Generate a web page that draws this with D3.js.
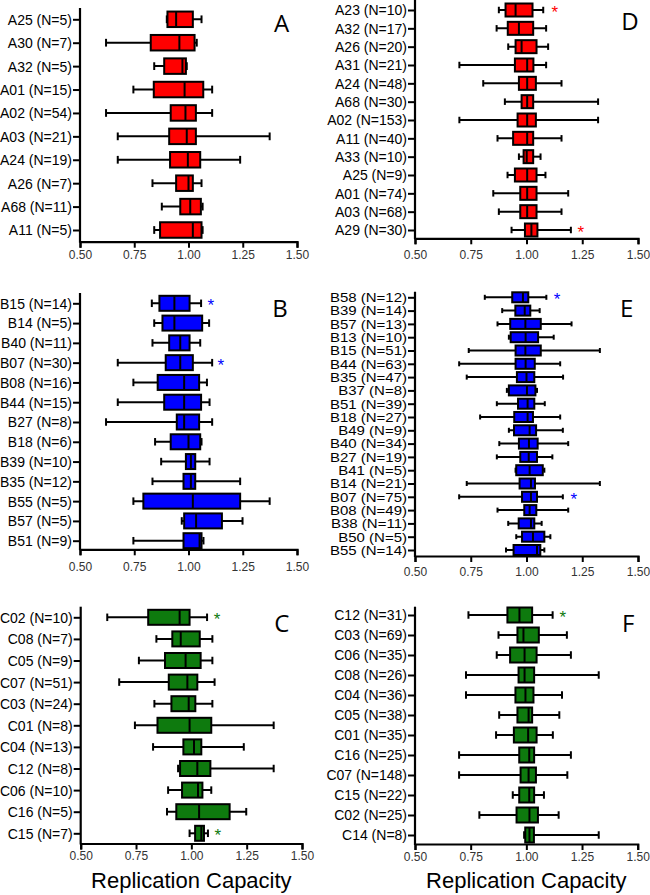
<!DOCTYPE html>
<html>
<head>
<meta charset="utf-8">
<script src="https://cdn.jsdelivr.net/npm/d3@7"></script>
<style>
  html, body { margin: 0; padding: 0; background: #fff; }
  svg { display: block; }
</style>
</head>
<body>
<svg id="chart" width="650" height="895"></svg>
<script>
// ---------- DATA: [label, min, q1, median, q3, max] ----------
const panelA = [
  ["A25 (N=5)", 0.900, 0.903, 0.943, 1.020, 1.060],
  ["A30 (N=7)", 0.620, 0.826, 0.958, 1.028, 1.038],
  ["A32 (N=5)", 0.842, 0.888, 0.972, 0.988, 0.992],
  ["A01 (N=15)", 0.746, 0.840, 0.982, 1.068, 1.109],
  ["A02 (N=54)", 0.620, 0.918, 0.986, 1.034, 1.109],
  ["A03 (N=21)", 0.674, 0.911, 0.992, 1.034, 1.374],
  ["A24 (N=19)", 0.674, 0.915, 0.997, 1.054, 1.238],
  ["A26 (N=7)", 0.834, 0.943, 1.000, 1.020, 1.060],
  ["A68 (N=11)", 0.877, 0.962, 1.008, 1.057, 1.065],
  ["A11 (N=5)", 0.842, 0.869, 1.020, 1.060, 1.065]
];
const panelB = [
  ["B15 (N=14)", 0.831, 0.866, 0.935, 1.005, 1.058],
  ["B14 (N=5)", 0.842, 0.880, 0.935, 1.063, 1.095],
  ["B40 (N=11)", 0.834, 0.911, 0.962, 1.005, 1.054],
  ["B07 (N=30)", 0.674, 0.895, 0.962, 1.020, 1.109],
  ["B08 (N=16)", 0.746, 0.858, 0.980, 1.049, 1.085],
  ["B44 (N=15)", 0.674, 0.888, 0.980, 1.058, 1.097],
  ["B27 (N=8)", 0.620, 0.946, 0.980, 1.049, 1.109],
  ["B18 (N=6)", 0.846, 0.918, 1.000, 1.054, 1.060],
  ["B39 (N=10)", 0.874, 0.988, 1.011, 1.031, 1.097],
  ["B35 (N=12)", 0.834, 0.977, 1.011, 1.031, 1.238],
  ["B55 (N=5)", 0.746, 0.792, 1.020, 1.238, 1.374],
  ["B57 (N=5)", 0.969, 0.980, 1.035, 1.154, 1.249],
  ["B51 (N=9)", 0.746, 0.977, 1.051, 1.060, 1.069]
];
const panelC = [
  ["C02 (N=10)", 0.620, 0.805, 0.947, 0.992, 1.071],
  ["C08 (N=7)", 0.842, 0.914, 0.952, 1.038, 1.095],
  ["C05 (N=9)", 0.763, 0.881, 0.974, 1.042, 1.095],
  ["C07 (N=51)", 0.674, 0.898, 0.982, 1.027, 1.105],
  ["C03 (N=24)", 0.833, 0.910, 0.988, 1.018, 1.095],
  ["C01 (N=8)", 0.745, 0.847, 0.992, 1.090, 1.372],
  ["C04 (N=13)", 0.827, 0.964, 1.012, 1.045, 1.237],
  ["C12 (N=8)", 0.940, 0.949, 1.027, 1.086, 1.372],
  ["C06 (N=10)", 0.895, 0.958, 1.030, 1.050, 1.090],
  ["C16 (N=5)", 0.890, 0.932, 1.035, 1.173, 1.248],
  ["C15 (N=7)", 0.992, 1.017, 1.045, 1.057, 1.075]
];
const panelD = [
  ["A23 (N=10)", 0.876, 0.906, 0.951, 1.027, 1.075],
  ["A32 (N=17)", 0.866, 0.916, 0.966, 1.030, 1.088],
  ["A26 (N=20)", 0.918, 0.951, 0.978, 1.045, 1.097],
  ["A31 (N=21)", 0.699, 0.948, 1.003, 1.031, 1.088],
  ["A24 (N=48)", 0.806, 0.966, 1.003, 1.042, 1.157],
  ["A68 (N=30)", 0.903, 0.978, 1.003, 1.030, 1.321],
  ["A02 (N=153)", 0.699, 0.960, 1.003, 1.042, 1.321],
  ["A11 (N=40)", 0.870, 0.940, 1.003, 1.030, 1.157],
  ["A33 (N=10)", 0.966, 0.987, 1.001, 1.030, 1.063],
  ["A25 (N=9)", 0.915, 0.948, 1.003, 1.045, 1.085],
  ["A01 (N=74)", 0.851, 0.972, 1.003, 1.045, 1.187],
  ["A03 (N=68)", 0.876, 0.972, 1.003, 1.045, 1.157],
  ["A29 (N=30)", 0.933, 0.993, 1.022, 1.049, 1.199]
];
const panelE = [
  ["B58 (N=12)", 0.813, 0.936, 0.984, 1.008, 1.089],
  ["B39 (N=14)", 0.891, 0.950, 0.992, 1.017, 1.059],
  ["B57 (N=13)", 0.870, 0.927, 0.995, 1.064, 1.202],
  ["B13 (N=10)", 0.921, 0.929, 0.996, 1.052, 1.122],
  ["B15 (N=51)", 0.741, 0.951, 0.995, 1.064, 1.329],
  ["B44 (N=63)", 0.698, 0.951, 0.996, 1.037, 1.151],
  ["B35 (N=47)", 0.732, 0.957, 1.000, 1.035, 1.164],
  ["B37 (N=8)", 0.912, 0.921, 1.002, 1.040, 1.047],
  ["B51 (N=39)", 0.867, 0.962, 1.005, 1.035, 1.082],
  ["B18 (N=27)", 0.792, 0.945, 1.005, 1.029, 1.151],
  ["B49 (N=9)", 0.921, 0.944, 1.014, 1.043, 1.163],
  ["B40 (N=34)", 0.878, 0.966, 1.011, 1.050, 1.187],
  ["B27 (N=19)", 0.867, 0.972, 1.010, 1.047, 1.116],
  ["B41 (N=5)", 0.951, 0.954, 1.014, 1.073, 1.080],
  ["B14 (N=21)", 0.732, 0.969, 1.020, 1.038, 1.329],
  ["B07 (N=75)", 0.698, 0.980, 1.020, 1.047, 1.163],
  ["B08 (N=49)", 0.870, 0.990, 1.014, 1.044, 1.187],
  ["B38 (N=11)", 0.918, 0.965, 1.020, 1.035, 1.068],
  ["B50 (N=5)", 0.954, 0.980, 1.029, 1.080, 1.107],
  ["B55 (N=14)", 0.908, 0.942, 1.047, 1.062, 1.080]
];
const panelF = [
  ["C12 (N=31)", 0.740, 0.915, 0.969, 1.026, 1.118],
  ["C03 (N=69)", 0.875, 0.960, 0.987, 1.056, 1.182],
  ["C06 (N=35)", 0.867, 0.927, 0.992, 1.046, 1.200],
  ["C08 (N=26)", 0.729, 0.965, 0.992, 1.035, 1.325],
  ["C04 (N=36)", 0.729, 0.951, 0.996, 1.032, 1.160],
  ["C05 (N=38)", 0.878, 0.960, 1.010, 1.026, 1.148],
  ["C01 (N=35)", 0.864, 0.944, 1.008, 1.046, 1.119],
  ["C16 (N=25)", 0.698, 0.968, 1.013, 1.035, 1.200],
  ["C07 (N=148)", 0.698, 0.974, 1.010, 1.043, 1.184],
  ["C15 (N=22)", 0.939, 0.968, 1.013, 1.035, 1.079],
  ["C02 (N=25)", 0.789, 0.956, 1.014, 1.052, 1.145],
  ["C14 (N=8)", 0.990, 0.995, 1.014, 1.034, 1.325]
];
// significance stars: [row label, x value]
const starsA = [];
const starsB = [["B15 (N=14)", 1.103], ["B07 (N=30)", 1.149]];
const starsC = [["C02 (N=10)", 1.116], ["C15 (N=7)", 1.120]];
const starsD = [["A23 (N=10)", 1.127], ["A29 (N=30)", 1.243]];
const starsE = [["B58 (N=12)", 1.137], ["B07 (N=75)", 1.212]];
const starsF = [["C12 (N=31)", 1.164]];
const xTicks = [0.50, 0.75, 1.00, 1.25, 1.50];
const panelLetters = ["A", "B", "C", "D", "E", "F"];
const axisTitle = "Replication Capacity";

// ---------- LAYOUT ----------
const RED = "#ff0000", BLUE = "#0000ff", GREEN = "#0e7a0e";
const FONT = "'Liberation Sans', Arial, sans-serif";
const panels = [
  { rows: panelA, stars: starsA, letter: panelLetters[0], color: RED,
    x0: 80, x1: 297, top: 8, yFirst: 19.3, yLast: 230, bottom: 241.7, boxH: 15.5, tickY: 259.5,
    lx: 281.7, ly: 31.7, labelSize: 14, labelScale: 1 },
  { rows: panelB, stars: starsB, letter: panelLetters[1], color: BLUE,
    x0: 80, x1: 297, top: 293, yFirst: 303.3, yLast: 540.7, bottom: 549.3, boxH: 15, tickY: 571,
    lx: 280, ly: 316.7, labelSize: 14, labelScale: 1 },
  { rows: panelC, stars: starsC, letter: panelLetters[2], color: GREEN,
    x0: 80.7, x1: 302, top: 606.7, yFirst: 617.3, yLast: 833.3, bottom: 843.5, boxH: 15, tickY: 859.5,
    lx: 281.7, ly: 631.7, labelSize: 14, labelScale: 1, title: true },
  { rows: panelD, stars: starsD, letter: panelLetters[3], color: RED,
    x0: 415, x1: 638, top: 0, yFirst: 10, yLast: 230, bottom: 238.3, boxH: 13, tickY: 259.5,
    lx: 630, ly: 30, labelSize: 14, labelScale: 1 },
  { rows: panelE, stars: starsE, letter: panelLetters[4], color: BLUE,
    x0: 415, x1: 638, top: 291.7, yFirst: 297.3, yLast: 550, bottom: 556, boxH: 10, tickY: 576,
    lx: 626.7, ly: 316.7, labelSize: 12.5, labelScale: 1.2 },
  { rows: panelF, stars: starsF, letter: panelLetters[5], color: GREEN,
    x0: 415, x1: 637.7, top: 606.7, yFirst: 615, yLast: 835, bottom: 844, boxH: 15, tickY: 861,
    lx: 628.3, ly: 631.7, labelSize: 14, labelScale: 1, title: true }
];

const svg = d3.select("#chart");

panels.forEach(p => {
  const g = svg.append("g");
  const x = d3.scaleLinear().domain([0.5, 1.5]).range([p.x0, p.x1]);
  const y = d3.scalePoint().domain(p.rows.map(r => r[0])).range([p.yFirst, p.yLast]);
  const capH = Math.max(5, p.boxH * 0.5);

  // x axis
  const xa = g.append("g").attr("transform", `translate(0,${p.bottom})`)
    .call(d3.axisBottom(x).tickValues(xTicks).tickFormat(d3.format(".2f")).tickSizeOuter(0).tickSize(6));
  xa.select(".domain").attr("stroke", "#000").attr("stroke-width", 2.2);
  xa.selectAll(".tick line").attr("stroke", "#000").attr("stroke-width", 2);
  xa.selectAll(".tick text").attr("y", p.tickY - p.bottom).attr("dy", 0)
    .attr("font-family", FONT).attr("font-size", 12).attr("fill", "#333");

  // y axis (ticks + labels)
  const ya = g.append("g").attr("transform", `translate(${p.x0},0)`)
    .call(d3.axisLeft(y).tickSize(7).tickPadding(1));
  ya.select(".domain").remove();
  ya.selectAll(".tick line").attr("stroke", "#000").attr("stroke-width", 2);
  ya.selectAll(".tick text").attr("font-family", FONT).attr("font-size", p.labelSize)
    .attr("fill", "#000").attr("dy", "0.35em")
    .attr("x", -8 / p.labelScale)
    .attr("transform", `scale(${p.labelScale},1)`);
  // left spine
  g.append("line").attr("x1", p.x0).attr("x2", p.x0).attr("y1", p.top).attr("y2", p.bottom + 1)
    .attr("stroke", "#000").attr("stroke-width", 2.2);

  // boxes
  const row = g.selectAll("g.row").data(p.rows).enter().append("g").attr("class", "row");
  row.append("line")
    .attr("x1", d => x(d[1])).attr("x2", d => x(d[5]))
    .attr("y1", d => y(d[0])).attr("y2", d => y(d[0]))
    .attr("stroke", "#000").attr("stroke-width", 2);
  row.append("line")
    .attr("x1", d => x(d[1])).attr("x2", d => x(d[1]))
    .attr("y1", d => y(d[0]) - capH / 2).attr("y2", d => y(d[0]) + capH / 2)
    .attr("stroke", "#000").attr("stroke-width", 2);
  row.append("line")
    .attr("x1", d => x(d[5])).attr("x2", d => x(d[5]))
    .attr("y1", d => y(d[0]) - capH / 2).attr("y2", d => y(d[0]) + capH / 2)
    .attr("stroke", "#000").attr("stroke-width", 2);
  row.append("rect")
    .attr("x", d => x(d[2])).attr("width", d => x(d[4]) - x(d[2]))
    .attr("y", d => y(d[0]) - p.boxH / 2).attr("height", p.boxH)
    .attr("fill", p.color).attr("stroke", "#000").attr("stroke-width", 2);
  row.append("line")
    .attr("x1", d => x(d[3])).attr("x2", d => x(d[3]))
    .attr("y1", d => y(d[0]) - p.boxH / 2).attr("y2", d => y(d[0]) + p.boxH / 2)
    .attr("stroke", "#000").attr("stroke-width", 2);

  // stars
  g.selectAll("text.star").data(p.stars).enter().append("text").attr("class", "star")
    .attr("x", d => x(d[1])).attr("y", d => y(d[0]) + 8)
    .attr("text-anchor", "middle").attr("font-family", FONT).attr("font-size", 17)
    .attr("fill", p.color).text("*");

  // panel letter
  g.append("text").attr("x", p.lx).attr("y", p.ly).attr("text-anchor", "middle")
    .attr("font-family", "'Open Sans', 'Liberation Sans', sans-serif").attr("font-size", 24)
    .attr("fill", "#000").text(p.letter);

  if (p.title) {
    g.append("text").attr("x", (p.x0 + p.x1) / 2).attr("y", 888).attr("text-anchor", "middle")
      .attr("font-family", FONT).attr("font-size", 22).attr("fill", "#000").text(axisTitle);
  }
});
</script>
</body>
</html>
